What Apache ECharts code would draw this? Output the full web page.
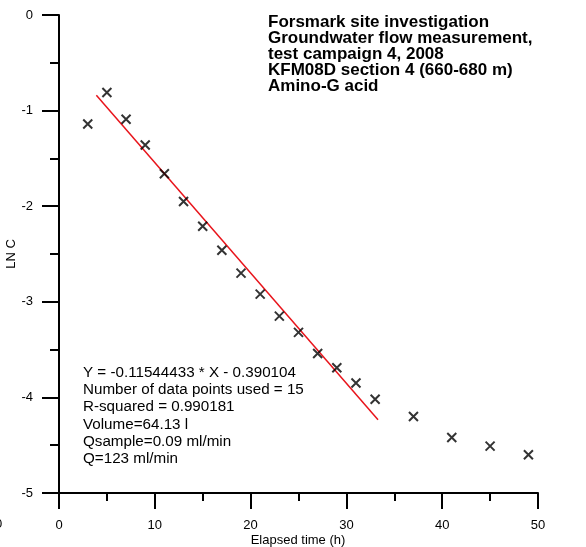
<!DOCTYPE html>
<html>
<head>
<meta charset="utf-8">
<script src="https://cdn.jsdelivr.net/npm/echarts@6/dist/echarts.min.js"></script>
<style>
html,body{margin:0;padding:0;background:#fff;}
#c{width:586px;height:547px;}
</style>
</head>
<body>
<div id="c"></div>
<script>
const timeH = [3, 5, 7, 9, 11, 13, 15, 17, 19, 21, 23, 25, 27, 29, 31, 33, 37, 41, 45, 49];
const lnC = [-1.14, -0.81, -1.09, -1.36, -1.66, -1.95, -2.21, -2.46, -2.70, -2.92, -3.15, -3.32, -3.54, -3.69, -3.85, -4.02, -4.20, -4.42, -4.51, -4.60];
const fitSlope = -0.11544433;
const fitIntercept = -0.390104;
const fitRange = [3.9, 33.3];
const xAxisName = 'Elapsed time (h)';
const yAxisName = 'LN C';
const titleLines = [
  'Forsmark site investigation',
  'Groundwater flow measurement,',
  'test campaign 4, 2008',
  'KFM08D section 4 (660-680 m)',
  'Amino-G acid'
];
const infoLines = [
  'Y = -0.11544433 * X - 0.390104',
  'Number of data points used = 15',
  'R-squared = 0.990181',
  'Volume=64.13 l',
  'Qsample=0.09 ml/min',
  'Q=123 ml/min'
];

const chart = echarts.init(document.getElementById('c'), null, {renderer: 'canvas'});
const font = 'Liberation Sans, Arial, Helvetica, sans-serif';
const axisStyle = {color: '#000', width: 2};
chart.setOption({
  animation: false,
  backgroundColor: '#fff',
  grid: {left: 59, right: 48, top: 15, bottom: 54, containLabel: false, outerBoundsMode: 'none'},
  xAxis: {
    type: 'value', min: 0, max: 50, interval: 10,
    axisLine: {show: true, onZero: false, lineStyle: axisStyle},
    axisTick: {show: true, inside: false, length: 16, lineStyle: axisStyle},
    minorTick: {show: true, splitNumber: 2, length: 8, lineStyle: axisStyle},
    axisLabel: {color: '#000', fontSize: 13, fontFamily: font, margin: 26},
    splitLine: {show: false}
  },
  yAxis: {
    type: 'value', min: -5, max: 0, interval: 1,
    axisLine: {show: true, onZero: false, lineStyle: axisStyle},
    axisTick: {show: true, inside: false, length: 17, lineStyle: axisStyle},
    minorTick: {show: true, splitNumber: 2, length: 9, lineStyle: axisStyle},
    axisLabel: {color: '#000', fontSize: 13, fontFamily: font, margin: 26},
    splitLine: {show: false}
  },
  series: [
    {
      type: 'line',
      data: fitRange.map(x => [x, fitSlope * x + fitIntercept]),
      showSymbol: false, symbol: 'none',
      lineStyle: {color: '#e8141b', width: 1.5},
      z: 2
    },
    {
      type: 'scatter',
      data: timeH.map((x, i) => [x, lnC[i]]),
      symbol: 'path://M0,0L10,10M10,0L0,10',
      symbolSize: 9,
      itemStyle: {color: 'rgba(0,0,0,0)', borderColor: '#000', borderWidth: 2},
      z: 3
    }
  ],
  graphic: [
    {
      type: 'text', left: 268, top: 14,
      style: {text: titleLines.join('\n'), font: 'bold 17px ' + font, fill: '#000', lineHeight: 16}
    },
    {
      type: 'text', left: 83, top: 364,
      style: {text: infoLines.join('\n'), font: '15.2px ' + font, fill: '#000', lineHeight: 17.3}
    },
    {
      type: 'text', x: 298, y: 540,
      style: {text: xAxisName, font: '13px ' + font, fill: '#000', align: 'center', verticalAlign: 'middle'}
    },
    {
      type: 'text', x: 11, y: 254, rotation: Math.PI / 2,
      style: {text: yAxisName, font: '13px ' + font, fill: '#000', align: 'center', verticalAlign: 'middle'}
    },
    {
      type: 'text', left: -5, top: 518,
      style: {text: '0', font: '13px ' + font, fill: '#000'}
    }
  ]
});
</script>
</body>
</html>
